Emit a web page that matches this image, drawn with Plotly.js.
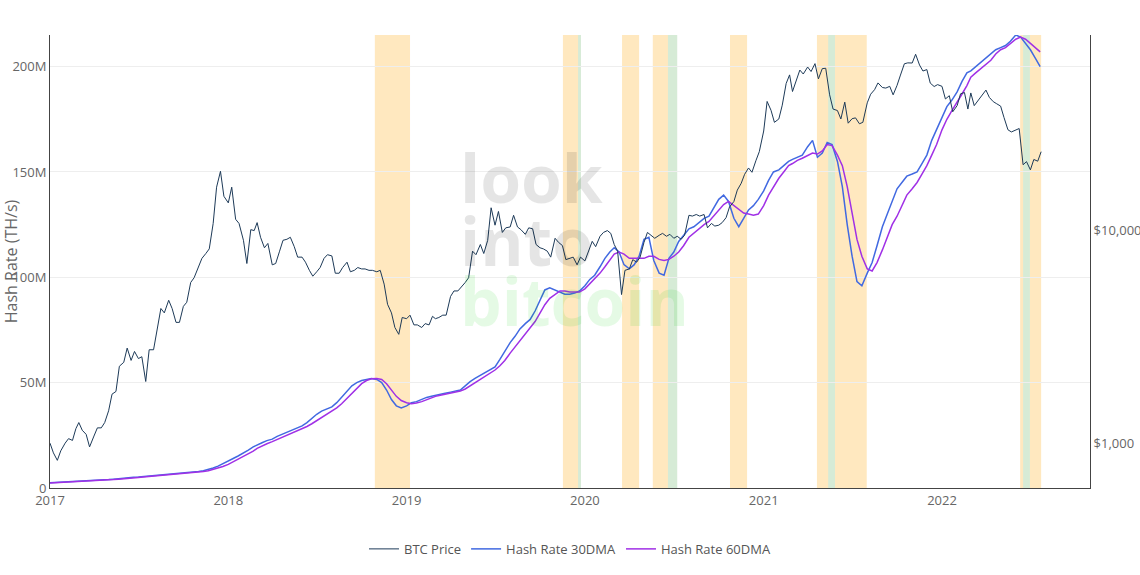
<!DOCTYPE html>
<html>
<head>
<meta charset="utf-8">
<script src="https://cdn.plot.ly/plotly-3.0.1.min.js"></script>
<style>
  html, body { margin: 0; padding: 0; background: #fff; }
  #chart { width: 1140px; height: 575px; }
</style>
</head>
<body>
<div id="chart"></div>
<script>
// BTC price, 4 samples a month (1st, 8th, 16th, 23rd)
var price2017 = [1000, 900, 830, 920, 1000, 1050, 1030, 1170, 1250, 1150, 1100, 960,
    1080, 1180, 1180, 1250, 1420, 1700, 1750, 2300, 2400, 2800, 2450, 2700,
    2500, 2550, 1950, 2750, 2750, 3400, 4300, 4100, 4700, 4300, 3700, 3700,
    4400, 4600, 5700, 6000, 6700, 7400, 7800, 8200, 10800, 16000, 19000, 14500];
var price2018 = [13500, 16000, 11300, 10800, 9000, 7000, 10100, 10000, 10900, 9300, 8300, 8700,
    6900, 7000, 8000, 9000, 9100, 9300, 8400, 7500, 7500, 7100, 6500, 6100,
    6400, 6700, 7400, 7700, 7600, 6300, 6300, 6700, 7100, 6400, 6500, 6700,
    6600, 6600, 6500, 6500, 6400, 6500, 5600, 4500, 4100, 3500, 3250, 3900];
var price2019 = [3850, 4000, 3600, 3600, 3500, 3650, 3600, 3950, 3850, 3900, 4000, 4000,
    4900, 5200, 5200, 5400, 5700, 6000, 8000, 7700, 8600, 7800, 9000, 12800,
    10600, 12300, 9800, 10300, 10400, 11800, 10400, 10100, 9600, 10300, 10200, 8600,
    8300, 8200, 8000, 7500, 9200, 8800, 8500, 7300, 7400, 7500, 6900, 7500];
var price2020 = [7200, 8000, 8900, 8400, 9400, 9800, 10000, 9700, 8600, 8000, 5000, 6500,
    6600, 7300, 7100, 7500, 8800, 9800, 9500, 9200, 9500, 9700, 9400, 9600,
    9200, 9400, 9100, 9500, 11800, 11700, 11900, 11700, 11900, 10300, 10800, 10500,
    10600, 10900, 11500, 12900, 13700, 15500, 16700, 18400, 19700, 18800, 21300, 23500];
var price2021 = [29400, 40500, 36800, 32300, 33500, 38900, 49200, 54000, 45100, 50900, 56900, 54500,
    58800, 56000, 61000, 51700, 57800, 58000, 43500, 37300, 36700, 33500, 40200, 32000,
    33600, 33900, 31800, 32300, 39900, 43800, 46000, 49500, 47100, 46800, 47700, 43500,
    48200, 53900, 60900, 61500, 61400, 67500, 60100, 56300, 57200, 49400, 47600, 48600];
var price2022 = [47700, 41600, 43100, 36200, 38700, 44000, 44600, 37300, 44400, 38700, 41000, 42900,
    45800, 42300, 40400, 39500, 38500, 34000, 29800, 29100, 29800, 30200, 20400, 21100,
    19300, 21600, 21200, 23500];

// hash rate, millions of TH/s, 3 samples a month (1st, 11th, 21st)
var hash30 = [
    2.5, 2.6, 2.7, 2.8, 2.9, 3.0, 3.2, 3.3, 3.5, 3.6, 3.7, 3.8, 4.0, 4.2, 4.5, 4.8, 5.0, 5.1,
    5.2, 5.4, 5.6, 5.8, 6.0, 6.2, 6.4, 6.6, 6.8, 6.9, 7.2, 7.5, 7.8, 8.2, 8.8, 9.5, 10.4, 11.5,
    12.6, 14.0, 15.2, 16.5, 18.0, 19.5, 20.5, 21.5, 22.5, 23.2, 24.5, 25.5, 26.5, 27.5, 28.5, 29.5, 31.0, 33.0,
    35.0, 36.5, 37.5, 38.5, 40.5, 43.0, 46.0, 48.5, 50.0, 51.0, 51.5, 52.0, 51.5, 50.0, 46.5, 42.0, 39.0, 38.0,
    39.0, 40.5, 41.0, 42.0, 43.0, 43.5, 44.0, 44.5, 45.0, 45.5, 46.0, 46.5, 48.5, 50.5, 52.0, 53.5, 55.0, 56.0,
    57.5, 61.0, 65.0, 69.0, 72.0, 75.5, 78.0, 80.0, 84.0, 89.0, 94.0, 95.0, 94.0, 93.0, 92.0, 92.0, 92.5, 93.5,
    96, 99, 101, 105, 109, 112, 114, 112, 106, 104, 106, 110, 118, 119, 108, 102, 101, 109,
    112, 117, 120, 123, 124, 126, 128, 129, 133, 137, 139, 136, 128, 124, 128, 132, 134, 137,
    141, 146, 150, 151, 153, 155, 156, 157, 158, 162, 165, 157, 159, 164, 163, 155, 143, 125,
    110, 98, 96, 102, 107, 115, 124, 130, 136, 142, 145, 148, 149, 150, 154, 158, 165, 170,
    176, 181, 184, 188, 193, 197, 198, 200, 202, 204, 206, 208, 209, 210, 212, 215, 214, 211,
    208, 204, 200];
var hash60 = [
    2.4, 2.5, 2.6, 2.7, 2.8, 2.9, 3.0, 3.2, 3.3, 3.5, 3.6, 3.7, 3.8, 4.0, 4.2, 4.5, 4.7, 4.9,
    5.0, 5.2, 5.4, 5.6, 5.8, 6.0, 6.2, 6.4, 6.6, 6.8, 7.0, 7.2, 7.5, 7.8, 8.2, 8.8, 9.4, 10.2,
    11.2, 12.4, 13.6, 14.8, 16.2, 17.5, 18.8, 20.0, 21.0, 22.0, 23.0, 24.0, 25.0, 26.0, 27.0, 28.0, 29.2, 30.5,
    32.0, 33.5, 35.0, 36.5, 38.0, 40.0, 42.5, 45.0, 47.5, 49.5, 51.0, 51.8, 52.0, 51.5, 49.5, 46.5, 43.5, 41.5,
    40.5, 40.0, 40.3, 41.0, 42.0, 43.0, 43.5, 44.0, 44.5, 45.0, 45.5, 46.0, 47.0, 48.5, 50.0, 51.5, 53.0, 54.5,
    56.0, 58.0, 60.5, 64.0, 67.0, 70.0, 73.0, 76.0, 79.0, 83.0, 87.0, 90.0, 92.0, 93.5, 93.5, 93.0, 93.0, 93.0,
    94.5, 97, 99, 102, 105, 108, 111, 112, 111, 109, 109, 109, 109, 110, 110, 108.5, 108, 108.5,
    110, 112, 115, 119, 121, 123, 125, 126.5, 129, 132, 134.5, 136, 134, 132, 130.5, 130, 129.5, 130,
    134, 139, 143, 147, 150, 153, 154, 155.5, 156.5, 158, 159, 158.5, 160, 163, 162.5, 158, 153, 143,
    130, 118, 110, 104, 103, 107, 113, 119, 125, 129, 134, 139, 142, 145, 149, 153, 158, 163,
    170, 175, 179, 183, 187, 191, 195, 197, 199, 201, 203, 206, 208, 209, 211, 213, 214, 213,
    211, 209, 207];

var priceDays = [1, 8, 16, 23];
var hashDays = [1, 11, 21];

var priceTickVals = [1000, 10000, 100000];
var priceTickText = ['$1,000', '$10,000', '$100,000'];

var orangeBands = [
    ['2018-10-28', '2019-01-08'], ['2019-11-17', '2019-12-18'], ['2020-03-17', '2020-04-21'],
    ['2020-05-19', '2020-06-19'], ['2020-10-24', '2020-11-28'], ['2021-04-20', '2021-05-13'],
    ['2021-05-27', '2021-07-31'], ['2022-06-10', '2022-06-16'], ['2022-06-30', '2022-07-23']
];
var greenBands = [
    ['2019-12-18', '2019-12-24'], ['2020-06-19', '2020-07-08'],
    ['2021-05-13', '2021-05-27'], ['2022-06-16', '2022-06-30']
];

function pad(n) { return (n < 10 ? '0' : '') + n; }

function buildDates(days, count) {
    var out = [];
    for (var y = 2017; out.length < count; y++) {
        for (var m = 1; m <= 12 && out.length < count; m++) {
            for (var i = 0; i < days.length && out.length < count; i++) {
                out.push(y + '-' + pad(m) + '-' + pad(days[i]));
            }
        }
    }
    return out;
}

var price = [].concat(price2017, price2018, price2019, price2020, price2021, price2022);
var priceDates = buildDates(priceDays, price.length);
var hashDates = buildDates(hashDays, hash30.length);

var shapes = [];
orangeBands.forEach(function (b) {
    shapes.push({type: 'rect', xref: 'x', yref: 'paper', x0: b[0], x1: b[1], y0: 0, y1: 1,
        fillcolor: 'rgba(255,165,0,0.25)', line: {width: 0}, layer: 'below'});
});
greenBands.forEach(function (b) {
    shapes.push({type: 'rect', xref: 'x', yref: 'paper', x0: b[0], x1: b[1], y0: 0, y1: 1,
        fillcolor: 'rgba(0,128,0,0.16)', line: {width: 0}, layer: 'below'});
});

var traceBtc = {
    type: 'scatter', mode: 'lines', name: 'BTC Price',
    x: priceDates, y: price, yaxis: 'y2',
    line: {color: '#1d3a58', width: 1}
};
var trace30 = {
    type: 'scatter', mode: 'lines', name: 'Hash Rate 30DMA',
    x: hashDates, y: hash30.map(function (v) { return v * 1e6; }),
    line: {color: '#4169e1', width: 1.5}
};
var trace60 = {
    type: 'scatter', mode: 'lines', name: 'Hash Rate 60DMA',
    x: hashDates, y: hash60.map(function (v) { return v * 1e6; }),
    line: {color: '#a030e6', width: 1.5}
};

var wm = {family: 'Open Sans, sans-serif', size: 66, weight: 'bold'};
var tickFont = {family: 'Open Sans, verdana, arial, sans-serif', size: 13, color: '#666'};
var layout = {
    width: 1140, height: 575,
    margin: {l: 50, r: 50, t: 35, b: 86},
    paper_bgcolor: '#fff', plot_bgcolor: '#fff',
    font: {family: 'Open Sans, verdana, arial, sans-serif', size: 13, color: '#666'},
    showlegend: true,
    legend: {orientation: 'h', x: 0.5, xanchor: 'center', y: -0.132, yanchor: 'middle',
        font: {size: 13, color: '#555'}},
    xaxis: {
        type: 'date', range: ['2017-01-01', '2022-10-31'],
        dtick: 'M12', tickformat: '%Y', showgrid: false, tickfont: tickFont,
        showline: true, linecolor: '#444', linewidth: 1, ticks: ''
    },
    yaxis: {
        title: {text: 'Hash Rate (TH/s)', font: {size: 16, color: '#666'}, standoff: 32},
        range: [0, 215e6], dtick: 50e6, tickformat: '~s', tickfont: tickFont,
        showline: true, linecolor: '#444', linewidth: 1,
        gridcolor: '#eee', zeroline: false
    },
    yaxis2: {
        overlaying: 'y', side: 'right', type: 'log',
        range: [2.789, 4.92], tickvals: priceTickVals, ticktext: priceTickText,
        tickfont: tickFont,
        showgrid: false, showline: true, linecolor: '#444', linewidth: 1, zeroline: false
    },
    shapes: shapes,
    annotations: [
        {text: 'look', xref: 'paper', yref: 'paper', x: 0.392, y: 0.686, xanchor: 'left', yanchor: 'middle',
            showarrow: false, font: Object.assign({color: 'rgba(0,0,0,0.1)'}, wm)},
        {text: 'into', xref: 'paper', yref: 'paper', x: 0.392, y: 0.548, xanchor: 'left', yanchor: 'middle',
            showarrow: false, font: Object.assign({color: 'rgba(0,0,0,0.1)'}, wm)},
        {text: 'bitcoin', xref: 'paper', yref: 'paper', x: 0.392, y: 0.414, xanchor: 'left', yanchor: 'middle',
            showarrow: false, font: Object.assign({color: 'rgba(0,210,0,0.1)'}, wm)}
    ]
};

var data = [traceBtc, trace30, trace60];
Plotly.newPlot('chart', data, layout, {displayModeBar: false, staticPlot: true});
</script>
</body>
</html>
